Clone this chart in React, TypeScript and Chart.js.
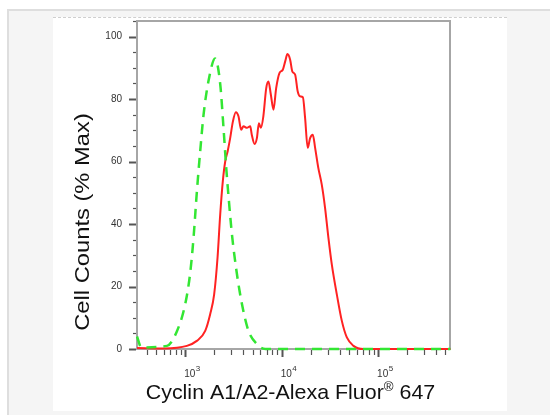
import React, { useEffect, useRef } from "react";
import { Chart, registerables } from "chart.js";

Chart.register(...registerables);

// Fluorescence intensity (x) and % of max cell counts (y)
const isotypeX = [316, 350, 646, 820, 1000, 1122, 1219, 1321, 1429, 1549, 1738, 2042, 2307, 2495, 2661, 2818, 3048, 3436, 3873, 4529, 5534, 6761, 562000];
const isotypeY = [4, 0.5, 1, 5.7, 14.4, 24, 35.6, 50.5, 63.3, 75, 85.6, 93, 84.7, 70.7, 58, 48.5, 36.8, 24, 14.4, 5.8, 1.6, 0, 0];

const cyclinX = [316, 600, 1040, 1318, 1611, 1816, 1995, 2163, 2307, 2455, 2600, 2754, 2924, 3119, 3350, 3565, 3802, 4018, 4365, 4721, 4898, 5248, 5534, 5808, 6081, 6457, 6918, 7295, 7727, 8222, 8770, 9484, 10280, 10864, 11482, 12246, 12882, 13804, 14655, 15488, 16596, 17498, 18621, 19724, 21038, 22233, 23988, 26062, 28184, 30549, 33113, 37325, 42073, 47424, 55590, 70795, 562000];
const cyclinY = [0.3, 0.2, 1, 2.6, 5.8, 11.2, 17.5, 29.3, 43.2, 53.8, 60.1, 63.3, 67.5, 72.8, 75.8, 74.5, 70.2, 71.3, 70.8, 71.3, 68.6, 65.6, 67.5, 72.3, 70.8, 74.5, 83.5, 85.6, 81.4, 76.6, 83.5, 88.3, 89.4, 92, 94.4, 92.6, 88.9, 87.8, 82.5, 80.9, 80.6, 74, 64.4, 67.5, 68.6, 64.4, 58, 52.6, 45.2, 35.6, 27.1, 17.5, 9, 3.7, 1, 0, 0];

const xMajorTicks = [1000, 10000, 100000];
const xTickBase = "10";
const xTickExponents = ["3", "4", "5"];
const yMajorTicks = [0, 20, 40, 60, 80, 100];

const xTitleMain = "Cyclin A1/A2-Alexa Fluor";
const xTitleSup = "®";
const xTitleEnd = " 647";
const yTitle = "Cell Counts (% Max)";

const FONT = "'Liberation Sans', Arial, sans-serif";

const framePlugin = {
  id: "frameAndTicks",
  beforeDatasetsDraw(chart: any) {
    const { ctx, chartArea } = chart;
    ctx.save();
    ctx.strokeStyle = "#a6a6a6";
    ctx.lineWidth = 2;
    ctx.strokeRect(chartArea.left, chartArea.top, chartArea.right - chartArea.left, chartArea.bottom - chartArea.top);
    ctx.restore();
  },
  afterDraw(chart: any) {
    const { ctx, chartArea, scales } = chart;
    const xs = scales.x;
    const ys = scales.y;
    ctx.save();
    ctx.strokeStyle = "#555";
    // y ticks
    for (let v = 0; v <= 105; v += 5) {
      const py = Math.round(ys.getPixelForValue(v)) + 0.5;
      const major = yMajorTicks.includes(v);
      ctx.lineWidth = major ? 2 : 1.2;
      ctx.beginPath();
      ctx.moveTo(chartArea.left - (major ? 8 : 4), py);
      ctx.lineTo(chartArea.left - 1, py);
      ctx.stroke();
    }
    // x ticks
    for (let d = 2; d <= 5; d++) {
      for (let m = 1; m <= 9; m++) {
        const v = m * Math.pow(10, d);
        if (v < xs.min || v > xs.max) continue;
        const px = Math.round(xs.getPixelForValue(v)) + 0.5;
        const major = m === 1;
        ctx.lineWidth = major ? 2 : 1.2;
        ctx.beginPath();
        ctx.moveTo(px, chartArea.bottom + 1);
        ctx.lineTo(px, chartArea.bottom + (major ? 8 : 6));
        ctx.stroke();
      }
    }
    // x tick labels with superscript exponents
    ctx.fillStyle = "#333";
    ctx.textAlign = "left";
    ctx.textBaseline = "alphabetic";
    xMajorTicks.forEach((v, i) => {
      const px = xs.getPixelForValue(v);
      ctx.font = `10px ${FONT}`;
      const w = ctx.measureText(xTickBase).width;
      ctx.fillText(xTickBase, px - 1, 377);
      ctx.font = `8px ${FONT}`;
      ctx.fillText(xTickExponents[i], px - 1 + w + 0.5, 371);
    });

    // titles
    ctx.fillStyle = "#111";
    const fs = 21;
    ctx.font = `${fs}px ${FONT}`;
    const wMain = ctx.measureText(xTitleMain).width;
    const wEnd = ctx.measureText(xTitleEnd).width;
    ctx.font = `${Math.round(fs * 0.6)}px ${FONT}`;
    const wSup = ctx.measureText(xTitleSup).width;
    const sx = 1.02;
    const total = (wMain + wSup + wEnd) * sx;
    ctx.save();
    ctx.translate(290.5 - total / 2, 399);
    ctx.scale(sx, 1);
    ctx.font = `${fs}px ${FONT}`;
    ctx.fillText(xTitleMain, 0, 0);
    ctx.font = `${Math.round(fs * 0.6)}px ${FONT}`;
    ctx.fillText(xTitleSup, wMain, -8);
    ctx.font = `${fs}px ${FONT}`;
    ctx.fillText(xTitleEnd, wMain + wSup, 0);
    ctx.restore();

    ctx.translate(89, 222);
    ctx.rotate(-Math.PI / 2);
    ctx.scale(1.13, 1);
    ctx.textAlign = "center";
    ctx.font = `${fs}px ${FONT}`;
    ctx.fillText(yTitle, 0, 0);
    ctx.restore();
  },
};

export default function App() {
  const ref = useRef<HTMLCanvasElement>(null);

  useEffect(() => {
    if (!ref.current) return;
    const chart = new Chart(ref.current, {
      type: "line",
      data: {
        datasets: [
          {
            label: "Isotype",
            data: isotypeX.map((x, i) => ({ x, y: isotypeY[i] })),
            borderColor: "#33e633",
            borderWidth: 2.5,
            borderDash: [10, 7],
            pointRadius: 0,
            cubicInterpolationMode: "monotone",
            fill: false,
            clip: 4,
          },
          {
            label: "Cyclin A1/A2",
            data: cyclinX.map((x, i) => ({ x, y: cyclinY[i] })),
            borderColor: "#ff2222",
            borderWidth: 2,
            pointRadius: 0,
            cubicInterpolationMode: "monotone",
            fill: false,
            clip: 4,
          },
        ],
      },
      options: {
        responsive: false,
        animation: false,
        layout: { padding: { left: 60, top: 19, right: 100, bottom: 0 } },
        plugins: { legend: { display: false }, tooltip: { enabled: false } },
        scales: {
          x: {
            type: "logarithmic",
            min: 316,
            max: 557000,
            grid: { display: false, drawTicks: false },
            border: { display: false },
            afterBuildTicks: (scale: any) => {
              scale.ticks = xMajorTicks.map((v) => ({ value: v }));
            },
            afterFit: (scale: any) => {
              scale.height = 66;
            },
            ticks: { display: false },
          },
          y: {
            type: "linear",
            min: 0,
            max: 105,
            grid: { display: false, drawTicks: false },
            border: { display: false },
            afterBuildTicks: (scale: any) => {
              scale.ticks = yMajorTicks.map((v) => ({ value: v }));
            },
            afterFit: (scale: any) => {
              scale.width = 77;
            },
            ticks: {
              padding: 15,
              color: "#333",
              font: { family: FONT, size: 10 },
            },
          },
        },
      },
      plugins: [framePlugin],
    });
    return () => chart.destroy();
  }, []);

  return (
    <div style={{ position: "absolute", left: 0, top: 0, width: 550, height: 415, background: "#fff", overflow: "hidden" }}>
      <div
        style={{
          position: "absolute",
          left: 7,
          top: 9,
          width: 543,
          height: 406,
          background: "#f5f5f5",
          borderLeft: "2px solid #dedede",
          borderTop: "2px solid #dedede",
          boxSizing: "border-box",
        }}
      />
      <div
        style={{
          position: "absolute",
          left: 53,
          top: 17,
          width: 454,
          height: 394,
          background: "#fff",
          borderTop: "1px dashed #cfcfcf",
          boxSizing: "border-box",
        }}
      />
      <canvas ref={ref} width={550} height={415} style={{ position: "absolute", left: 0, top: 0, width: 550, height: 415 }} />
    </div>
  );
}
